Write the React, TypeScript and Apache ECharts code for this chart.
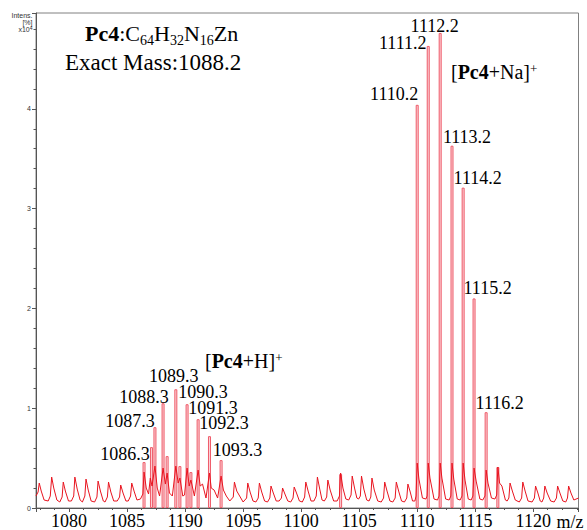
import React, { useEffect, useRef } from 'react';
import * as echarts from 'echarts';

// Continuous baseline/noise trace of the spectrum: [m/z, intensity (x10^4)]
const noiseTrace: [number, number][] = [
  [1077.15, 0.12], [1077.33, 0.16], [1077.43, 0.25], [1077.6, 0.17], [1077.85, 0.08],
  [1078.2, 0.07], [1078.38, 0.12], [1078.5, 0.31], [1078.68, 0.2], [1078.95, 0.08],
  [1079.2, 0.06], [1079.4, 0.11], [1079.5, 0.26], [1079.68, 0.17], [1079.95, 0.07],
  [1080.2, 0.07], [1080.4, 0.12], [1080.5, 0.31], [1080.7, 0.19], [1080.95, 0.08],
  [1081.15, 0.06], [1081.36, 0.12], [1081.46, 0.29], [1081.65, 0.18], [1081.9, 0.07],
  [1082.2, 0.06], [1082.4, 0.11], [1082.5, 0.27], [1082.7, 0.17], [1082.95, 0.07],
  [1083.1, 0.06], [1083.3, 0.11], [1083.4, 0.26], [1083.6, 0.16], [1083.85, 0.07],
  [1084.15, 0.07], [1084.35, 0.11], [1084.45, 0.23], [1084.65, 0.15], [1084.9, 0.07],
  [1085.1, 0.07], [1085.3, 0.12], [1085.4, 0.25], [1085.6, 0.17], [1085.85, 0.08],
  [1086.15, 0.09], [1086.36, 0.14], [1086.46, 0.36], [1086.65, 0.2], [1086.85, 0.14],
  [1087.0, 0.3], [1087.15, 0.22], [1087.4, 0.42], [1087.6, 0.2], [1087.8, 0.12],
  [1088.1, 0.4], [1088.3, 0.24], [1088.45, 0.35], [1088.65, 0.15], [1088.9, 0.12],
  [1089.2, 0.42], [1089.4, 0.25], [1089.55, 0.3], [1089.8, 0.12], [1089.95, 0.13],
  [1090.17, 0.4], [1090.35, 0.22], [1090.5, 0.28], [1090.8, 0.12],
  [1091.12, 0.38], [1091.3, 0.22], [1091.5, 0.24], [1091.8, 0.1],
  [1092.1, 0.35], [1092.25, 0.2], [1092.5, 0.18], [1092.8, 0.1],
  [1093.1, 0.32], [1093.3, 0.18], [1093.55, 0.12], [1093.85, 0.07],
  [1094.15, 0.11], [1094.25, 0.26], [1094.45, 0.17], [1094.7, 0.12], [1095.0, 0.06],
  [1095.3, 0.1], [1095.4, 0.25], [1095.6, 0.16], [1095.85, 0.07], [1096.1, 0.06],
  [1096.3, 0.1], [1096.4, 0.25], [1096.6, 0.16], [1096.85, 0.07], [1097.1, 0.06],
  [1097.3, 0.1], [1097.4, 0.22], [1097.6, 0.15], [1097.85, 0.07], [1098.1, 0.07],
  [1098.3, 0.1], [1098.4, 0.2], [1098.6, 0.14], [1098.85, 0.07], [1099.1, 0.06],
  [1099.3, 0.1], [1099.4, 0.21], [1099.6, 0.15], [1099.85, 0.07], [1100.1, 0.06],
  [1100.3, 0.11], [1100.4, 0.26], [1100.6, 0.17], [1100.85, 0.07], [1101.1, 0.07],
  [1101.3, 0.12], [1101.4, 0.31], [1101.6, 0.19], [1101.8, 0.08], [1102.0, 0.07],
  [1102.2, 0.11], [1102.3, 0.28], [1102.5, 0.18], [1102.8, 0.07], [1103.1, 0.07],
  [1103.3, 0.12], [1103.4, 0.35], [1103.6, 0.2], [1103.85, 0.09], [1104.1, 0.08],
  [1104.3, 0.13], [1104.4, 0.32], [1104.6, 0.2], [1104.8, 0.1], [1104.95, 0.09],
  [1105.1, 0.12], [1105.2, 0.32], [1105.4, 0.19], [1105.65, 0.08], [1105.85, 0.07],
  [1106.0, 0.11], [1106.1, 0.3], [1106.3, 0.18], [1106.6, 0.07], [1106.9, 0.06],
  [1107.1, 0.1], [1107.2, 0.26], [1107.4, 0.17], [1107.65, 0.07], [1107.9, 0.06],
  [1108.1, 0.1], [1108.2, 0.26], [1108.4, 0.17], [1108.65, 0.07], [1108.9, 0.06],
  [1109.1, 0.1], [1109.2, 0.24], [1109.4, 0.16], [1109.6, 0.07], [1109.8, 0.07],
  [1109.9, 0.12], [1110.0, 0.45], [1110.15, 0.29], [1110.45, 0.1], [1110.75, 0.09],
  [1110.85, 0.12], [1110.95, 0.45], [1111.1, 0.3], [1111.45, 0.09], [1111.75, 0.08],
  [1111.88, 0.12], [1111.98, 0.45], [1112.13, 0.3], [1112.45, 0.09], [1112.75, 0.08],
  [1112.9, 0.12], [1113.0, 0.45], [1113.15, 0.29], [1113.45, 0.09], [1113.7, 0.08],
  [1113.86, 0.12], [1113.96, 0.45], [1114.12, 0.28], [1114.4, 0.09], [1114.65, 0.08],
  [1114.8, 0.12], [1114.9, 0.4], [1115.08, 0.27], [1115.4, 0.09], [1115.65, 0.08],
  [1115.84, 0.12], [1115.94, 0.38], [1116.1, 0.25], [1116.4, 0.1], [1116.7, 0.09],
  [1116.85, 0.13], [1116.95, 0.41], [1117.1, 0.25], [1117.3, 0.22], [1117.6, 0.08], [1117.75, 0.07],
  [1117.9, 0.1], [1118.0, 0.25], [1118.2, 0.17], [1118.45, 0.08], [1118.8, 0.06],
  [1119.0, 0.1], [1119.1, 0.26], [1119.3, 0.17], [1119.55, 0.07], [1119.9, 0.06],
  [1120.1, 0.1], [1120.2, 0.22], [1120.4, 0.15], [1120.6, 0.07], [1120.75, 0.06],
  [1120.9, 0.1], [1121.0, 0.22], [1121.2, 0.15], [1121.5, 0.07], [1121.8, 0.06],
  [1122.0, 0.1], [1122.1, 0.22], [1122.3, 0.15], [1122.55, 0.07], [1122.8, 0.06],
  [1122.95, 0.1], [1123.05, 0.22], [1123.25, 0.15], [1123.5, 0.08], [1123.9, 0.1],
];

// Isotope peaks (sticks)
const peakMz = [
  1086.46, 1087.1, 1087.4, 1088.1, 1088.45, 1089.2, 1089.55, 1090.17, 1090.5,
  1091.12, 1092.1, 1093.1, 1103.4,
  1110.0, 1110.95, 1111.98, 1113.0, 1113.96, 1114.9, 1115.94, 1116.95,
];
const peakIntensity = [
  0.46, 0.61, 0.81, 1.05, 0.52, 1.19, 0.42, 1.04, 0.36,
  0.89, 0.72, 0.48, 0.34,
  4.04, 4.63, 4.76, 3.63, 3.21, 2.1, 0.96, 0.41,
];
const peakLabels = [
  '1086.3', '', '1087.3', '1088.3', '', '1089.3', '', '1090.3', '',
  '1091.3', '1092.3', '1093.3', '',
  '1110.2', '1111.2', '1112.2', '1113.2', '1114.2', '1115.2', '1116.2', '',
];
// label offsets (style) in px relative to the top of each stick
const labelOffsets: [number, number][] = [
  [-19, -1], [0, 0], [-25, 0.5], [-19, 0.5], [0, 0], [-2, -6], [0, 0], [16, -5], [0, 0],
  [15, -4.5], [14.5, -6], [16.5, -3.5], [0, 0],
  [-23, -4], [-25.5, 4], [-5.5, 0], [15, -2], [14.5, -3], [13.5, -3], [13.5, -2.5], [0, 0],
];

const xTickValues = [1080, 1085, 1090, 1095, 1100, 1105, 1110, 1115, 1120];
const xTickLabels = ['1080', '1085', '1190', '1095', '1100', '1105', '1110', '1115', '1120'];
const yTickValues = [0, 1, 2, 3, 4];

const SERIF = "'Liberation Serif', 'Times New Roman', serif";
const SANS = "'Liberation Sans', Arial, sans-serif";

export default function App() {
  const ref = useRef<HTMLDivElement>(null);
  useEffect(() => {
    const chart = echarts.init(ref.current!, null, { renderer: 'svg' });
    const peakData = peakMz.map((mz, i) => ({
      value: [mz, peakIntensity[i]],
      label: peakLabels[i]
        ? {
            show: true,
            formatter: peakLabels[i],
            position: 'top',
            distance: 0,
            offset: labelOffsets[i],
            fontSize: 18,
            lineHeight: 14,
            fontFamily: SERIF,
            color: '#000',
          }
        : { show: false },
    }));
    const option: any = {
      animation: false,
      backgroundColor: '#fff',
      grid: {
        left: 36, right: 8.5, top: 13, bottom: 21,
        show: true, borderColor: '#808080', borderWidth: 1,
      },
      xAxis: {
        type: 'value',
        min: 1077.15,
        max: 1123.9,
        splitNumber: 9,
        axisLine: { show: true, lineStyle: { color: '#555', width: 1 } },
        axisTick: { show: true, length: 4, lineStyle: { color: '#555' } },
        minorTick: { show: true, splitNumber: 4, length: 2, lineStyle: { color: '#555' } },
        splitLine: { show: false },
        minorSplitLine: { show: false },
        axisLabel: {
          showMinLabel: false,
          showMaxLabel: false,
          margin: 4,
          fontSize: 18,
          fontFamily: SERIF,
          color: '#000',
          formatter: (v: number) => {
            const i = xTickValues.indexOf(Math.round(v * 100) / 100);
            return i >= 0 ? xTickLabels[i] : '';
          },
        },
      },
      yAxis: {
        type: 'value',
        min: 0,
        max: 4.96,
        interval: 1,
        axisLine: { show: true, lineStyle: { color: '#555', width: 1 } },
        axisTick: { show: true, length: 4, lineStyle: { color: '#555' } },
        minorTick: { show: true, splitNumber: 5, length: 2.5, lineStyle: { color: '#555' } },
        splitLine: { show: false },
        axisLabel: {
          showMaxLabel: false,
          margin: 5,
          fontSize: 7,
          fontFamily: SANS,
          color: '#333',
          formatter: (v: number) => (yTickValues.indexOf(v) >= 0 ? String(v) : ''),
        },
      },
      series: [
        {
          type: 'bar',
          data: peakData,
          barWidth: 3,
          itemStyle: { color: '#fbd3d8', borderColor: '#ef5a68', borderWidth: 1 },
          z: 2,
        },
        {
          type: 'line',
          data: noiseTrace,
          showSymbol: false,
          symbol: 'none',
          lineStyle: { color: '#e8141f', width: 1 },
          z: 3,
        },
      ],
      graphic: [
        {
          type: 'text', x: 32.5, y: 15.5,
          style: { text: 'Intens.', fontSize: 7, fontFamily: SANS, fill: '#333', align: 'right', verticalAlign: 'middle' },
        },
        {
          type: 'text', x: 32.5, y: 22.5,
          style: { text: '[%]', fontSize: 7, fontFamily: SANS, fill: '#333', align: 'right', verticalAlign: 'middle' },
        },
        {
          type: 'text', x: 32.5, y: 25,
          style: {
            text: '{n|x10}{p|4}', align: 'right', verticalAlign: 'top',
            rich: {
              n: { fontSize: 7, fontFamily: SANS, fill: '#333', lineHeight: 8 },
              p: { fontSize: 5, fontFamily: SANS, fill: '#333', verticalAlign: 'top', lineHeight: 8 },
            },
          },
        },
        {
          type: 'text', x: 85, y: 20.5,
          style: {
            text: '{b|Pc4}{n|:C}{s|64}{n|H}{s|32}{n|N}{s|16}{n|Zn}',
            align: 'left', verticalAlign: 'top',
            rich: {
              b: { fontSize: 22, fontWeight: 'bold', fontFamily: SERIF, fill: '#000', lineHeight: 26 },
              n: { fontSize: 22, fontFamily: SERIF, fill: '#000', lineHeight: 26 },
              s: { fontSize: 14, fontFamily: SERIF, fill: '#000', lineHeight: 26, verticalAlign: 'top', padding: [13, 0, 0, 0] },
            },
          },
        },
        {
          type: 'text', x: 65, y: 50.7,
          style: { text: 'Exact Mass:1088.2', fontSize: 23, fontFamily: SERIF, fill: '#000', align: 'left', verticalAlign: 'top', lineHeight: 23 },
        },
        {
          type: 'text', x: 451, y: 61.7,
          style: {
            text: '{n|[}{b|Pc4}{n|+Na]}{p|+}', align: 'left', verticalAlign: 'top',
            rich: {
              b: { fontSize: 20, fontWeight: 'bold', fontFamily: SERIF, fill: '#000', lineHeight: 20 },
              n: { fontSize: 20, fontFamily: SERIF, fill: '#000', lineHeight: 20 },
              p: { fontSize: 13, fontFamily: SERIF, fill: '#000', lineHeight: 20, verticalAlign: 'top' },
            },
          },
        },
        {
          type: 'text', x: 205, y: 351.2,
          style: {
            text: '{n|[}{b|Pc4}{n|+H]}{p|+}', align: 'left', verticalAlign: 'top',
            rich: {
              b: { fontSize: 20, fontWeight: 'bold', fontFamily: SERIF, fill: '#000', lineHeight: 20 },
              n: { fontSize: 20, fontFamily: SERIF, fill: '#000', lineHeight: 20 },
              p: { fontSize: 13, fontFamily: SERIF, fill: '#000', lineHeight: 20, verticalAlign: 'top' },
            },
          },
        },
        {
          type: 'text', x: 570, y: 522,
          style: { text: 'm/z', fontSize: 18, fontFamily: SERIF, fill: '#000', align: 'center', verticalAlign: 'middle' },
        },
      ],
    };
    chart.setOption(option);
    return () => chart.dispose();
  }, []);
  return (
    <div
      ref={ref}
      style={{ position: 'fixed', left: 0, top: 0, width: 587, height: 530, background: '#fff' }}
    />
  );
}
